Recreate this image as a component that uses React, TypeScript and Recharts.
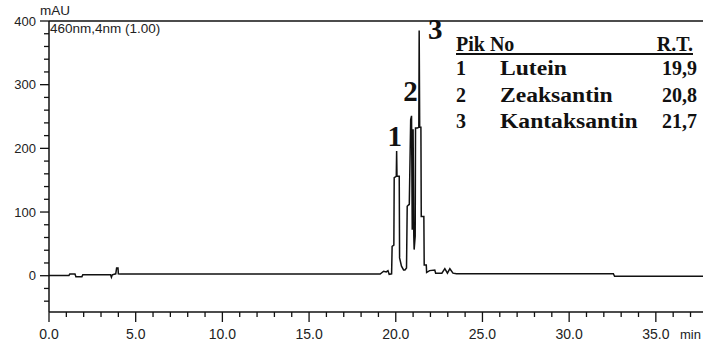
import { Line, LineChart, ReferenceDot, ReferenceLine, XAxis, YAxis } from "recharts";

const retentionTimes = [
  0, 1.15, 1.2, 1.5, 1.55, 1.9, 1.95, 3.55, 3.6, 3.65,
  3.85, 3.9, 3.98, 4.0, 4.1, 19.1, 19.3, 19.45, 19.55, 19.62,
  19.76, 19.79, 19.89, 19.91, 20.03, 20.05, 20.07, 20.2, 20.22, 20.33,
  20.45, 20.53, 20.62, 20.66, 20.76, 20.78, 20.86, 20.91, 20.95, 21.0,
  21.04, 21.06, 21.12, 21.14, 21.25, 21.33, 21.35, 21.38, 21.45, 21.47,
  21.62, 21.64, 21.76, 21.78, 21.95, 22.25, 22.3, 22.66, 22.83, 22.98,
  23.12, 23.3, 23.5, 32.55, 32.62, 38,
];

const absorbance = [
  0.5, 0.5, 2.5, 2.5, -1.5, -1.5, 1.5, 1.5, -2.5, 1.5,
  3, 12, 12, 3, 2.5, 2.5, 7, 6, 8, 2,
  3, 46, 48, 154, 156, 196, 156, 156, 28, 15,
  9, 9, 12, 109, 112, 112, 245, 251, 72, 230,
  62, 41, 62, 232, 232, 233, 385, 233, 233, 93,
  93, 17, 17, 5, 8, 9, 4, 4, 11, 4,
  11, 4, 3, 3, -1, -1,
];

const xTicks = [
  0, 1, 2, 3, 4, 5, 6, 7, 8, 9, 10, 11, 12, 13, 14, 15, 16, 17, 18, 19,
  20, 21, 22, 23, 24, 25, 26, 27, 28, 29, 30, 31, 32, 33, 34, 35, 36, 37,
];
const yTicks = [-40, -20, 0, 20, 40, 60, 80, 100, 120, 140, 160, 180, 200, 220, 240, 260, 280, 300, 320, 340, 360, 380, 400];

const peakIds = ["1", "2", "3"];
const peakTimes = [20.05, 20.91, 21.35];
const peakHeights = [196, 251, 385];

const compoundNames = ["Lutein", "Zeaksantin", "Kantaksantin"];
const rtLabels = ["19,9", "20,8", "21,7"];

const data = retentionTimes.map((t, i) => ({ t, v: absorbance[i] }));

const INK = "#111";
const SANS = "'Liberation Sans', Arial, sans-serif";
const SERIF = "'Liberation Serif', 'Times New Roman', serif";

// label offsets from the peak apex (dx, dy of the glyph baseline centre)
const labelOffsets = [
  [-2, -5],
  [-1, -15],
  [16, 8],
];

const YTick = (props: any) => {
  const { x, y, payload } = props;
  const major = payload.value % 100 === 0;
  return (
    <g>
      <line x1={x - (major ? 9 : 5)} x2={x} y1={y} y2={y} stroke={INK} strokeWidth={1.3} />
      {major && (
        <text x={x - 13} y={y + 4.5} textAnchor="end" fontSize={13} fontFamily={SANS} fill="#222">
          {payload.value}
        </text>
      )}
    </g>
  );
};

const XTick = (props: any) => {
  const { x, y, payload } = props;
  const major = payload.value % 5 === 0;
  return (
    <g>
      <line x1={x} x2={x} y1={y} y2={y + (major ? 10 : 5)} stroke={INK} strokeWidth={1.3} />
      {major && (
        <text x={x} y={y + 27} textAnchor="middle" fontSize={14} fontFamily={SANS} fill="#222">
          {payload.value.toFixed(1)}
        </text>
      )}
    </g>
  );
};

const App = () => {
  return (
    <div style={{ position: "absolute", left: 0, top: 0, width: 703, height: 347, overflow: "hidden", background: "#fff" }}>
      <LineChart width={703} height={347} data={data} margin={{ top: 21, right: 0, bottom: 0, left: 0 }}>
        <XAxis
          dataKey="t"
          type="number"
          domain={[0, 37.72]}
          ticks={xTicks}
          interval={0}
          height={35}
          tickSize={0}
          tickMargin={0}
          tickLine={false}
          axisLine={{ stroke: INK, strokeWidth: 1.5 }}
          tick={<XTick />}
          allowDataOverflow
        />
        <YAxis
          type="number"
          domain={[-57, 400]}
          ticks={yTicks}
          interval={0}
          width={49}
          tickSize={0}
          tickMargin={0}
          tickLine={false}
          axisLine={{ stroke: INK, strokeWidth: 1.5 }}
          tick={<YTick />}
          allowDataOverflow
        />
        <ReferenceLine y={400} stroke={INK} strokeWidth={1.5} />
        <Line
          dataKey="v"
          type="linear"
          stroke={INK}
          strokeWidth={1.5}
          dot={false}
          isAnimationActive={false}
        />
        {peakIds.map((id, i) => (
          <ReferenceDot
            key={id}
            x={peakTimes[i]}
            y={peakHeights[i]}
            r={0}
            fill="none"
            stroke="none"
            label={(p: any) => (
              <text
                x={p.viewBox.x + labelOffsets[i][0]}
                y={p.viewBox.y + labelOffsets[i][1]}
                textAnchor="middle"
                fontSize={29}
                fontWeight="bold"
                fontFamily={SERIF}
                fill={INK}
              >
                {id}
              </text>
            )}
          />
        ))}
      </LineChart>
      <svg width={703} height={347} style={{ position: "absolute", left: 0, top: 0, pointerEvents: "none" }}>
        <text x={40} y={15} fontSize={13.5} fontFamily={SANS} fill="#222">mAU</text>
        <text x={50} y={33} fontSize={13.5} fontFamily={SANS} fill="#222">460nm,4nm (1.00)</text>
        <text x={680} y={339} fontSize={13} fontFamily={SANS} fill="#222">min</text>
        <g fontFamily={SERIF} fontWeight="bold" fontSize={20} fill={INK}>
          <text x={456} y={51}>Pik No</text>
          <text x={693} y={51} textAnchor="end">R.T.</text>
          <line x1={456} x2={693} y1={54} y2={54} stroke={INK} strokeWidth={1.8} />
          {compoundNames.map((name, i) => {
            const y = 75 + i * 26.5;
            return (
              <g key={name}>
                <text x={456} y={y}>{peakIds[i]}</text>
                <text transform={`translate(500, ${y}) scale(1.18, 1)`}>{name}</text>
                <text x={697} y={y} textAnchor="end">{rtLabels[i]}</text>
              </g>
            );
          })}
        </g>
      </svg>
    </div>
  );
};

export default App;
